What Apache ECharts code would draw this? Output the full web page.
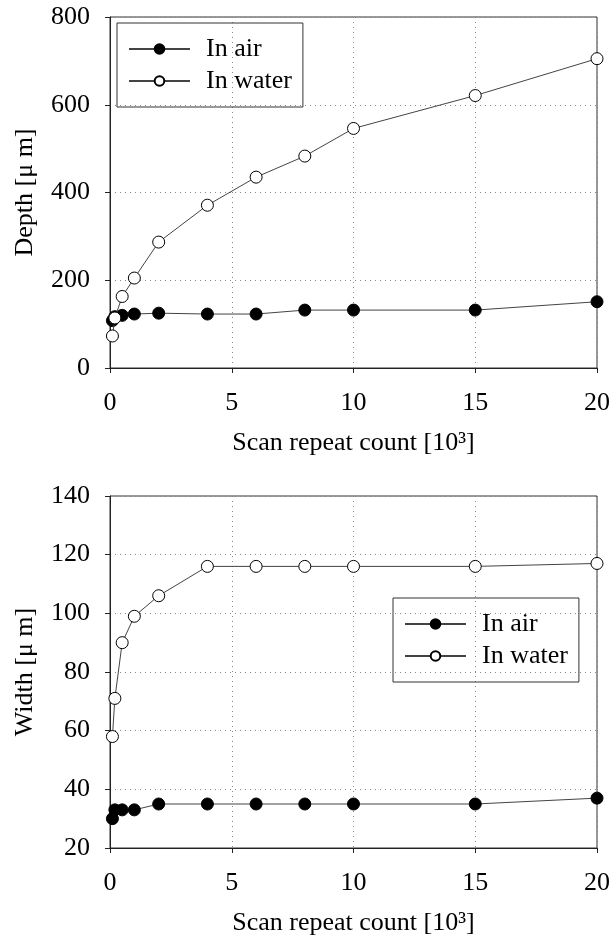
<!DOCTYPE html>
<html><head><meta charset="utf-8">
<script src="https://cdn.jsdelivr.net/npm/echarts@6/dist/echarts.min.js"></script>
<style>html,body{margin:0;padding:0;background:#fff}#c{width:613px;height:948px}</style>
</head><body><div id="c"></div>
<script>
// Scan repeat count [10^3]
const scanCount = [0.1, 0.2, 0.5, 1, 2, 4, 6, 8, 10, 15, 20];
// Depth [um]
const depthAir   = [108, 117, 120, 123, 125, 123, 123, 132, 132, 132, 151];
const depthWater = [73, 114, 163, 205, 287, 371, 435, 483, 546, 621, 705];
// Width [um]
const widthAir   = [30, 33, 33, 33, 35, 35, 35, 35, 35, 35, 37];
const widthWater = [58, 71, 90, 99, 106, 116, 116, 116, 116, 116, 117];

const seriesNames = ['In air', 'In water'];
const xName = 'Scan repeat count [10³]';
const depthName = 'Depth [μ m]';
const widthName = 'Width [μ m]';

const FONT = '"Liberation Serif", "Times New Roman", serif';
const zip = (xs, ys) => xs.map((x, i) => [x, ys[i]]);

function xAx(gi) {
  return {
    type: 'value', gridIndex: gi, min: 0, max: 20, interval: 5,
    name: xName, nameLocation: 'middle', nameGap: 62,
    nameTextStyle: { fontFamily: FONT, fontSize: 26, color: '#000' },
    axisLine: { onZero: false, lineStyle: { color: '#222', width: 1 } },
    axisTick: { length: 5, lineStyle: { color: '#222' } },
    axisLabel: { margin: 22, fontFamily: FONT, fontSize: 26, color: '#000' },
    splitLine: { show: true, lineStyle: { type: [1, 4], color: '#888' } }
  };
}
function yAx(gi, name, min, max, interval) {
  return {
    type: 'value', gridIndex: gi, min, max, interval,
    name, nameLocation: 'middle', nameGap: 72,
    nameTextStyle: { fontFamily: FONT, fontSize: 26, color: '#000' },
    axisLine: { show: true, onZero: false, lineStyle: { color: '#222', width: 1 } },
    axisTick: { show: true, length: 5, lineStyle: { color: '#222' } },
    axisLabel: { margin: 20, fontFamily: FONT, fontSize: 26, color: '#000' },
    splitLine: { show: true, lineStyle: { type: [1, 4], color: '#888' } }
  };
}
function legend(left, top) {
  return {
    left, top, orient: 'vertical', selectedMode: false,
    itemWidth: 61, itemHeight: 12, itemGap: 6,
    padding: [13, 11, 13, 11],
    borderColor: '#333', borderWidth: 1,
    textStyle: { fontFamily: FONT, fontSize: 26, color: '#000', padding: [0, 0, 0, 11] },
    data: seriesNames
  };
}
function lineSeries(name, gi, ys, filled) {
  return {
    name, type: 'line', xAxisIndex: gi, yAxisIndex: gi,
    data: zip(scanCount, ys),
    symbol: 'circle', symbolSize: 12,
    lineStyle: { color: '#444', width: 1 },
    itemStyle: filled ? { color: '#000', borderColor: '#000', borderWidth: 1 }
                      : { color: '#fff', borderColor: '#000', borderWidth: 1 },
    emphasis: { disabled: true },
    z: filled ? 2 : 3
  };
}

const chart = echarts.init(document.getElementById('c'), null, { renderer: 'canvas' });
chart.setOption({
  animation: false,
  backgroundColor: '#fff',
  grid: [
    { left: 110, right: 16, top: 17, height: 351, show: true, borderColor: '#333', borderWidth: 1 },
    { left: 110, right: 16, top: 496, height: 352, show: true, borderColor: '#333', borderWidth: 1 }
  ],
  xAxis: [xAx(0), xAx(1)],
  yAxis: [yAx(0, depthName, 0, 800, 200), yAx(1, widthName, 20, 140, 20)],
  legend: [legend(117, 23), legend(393, 598)],
  series: [
    lineSeries(seriesNames[0], 0, depthAir, true),
    lineSeries(seriesNames[1], 0, depthWater, false),
    lineSeries(seriesNames[0], 1, widthAir, true),
    lineSeries(seriesNames[1], 1, widthWater, false)
  ]
});
</script>
</body></html>
